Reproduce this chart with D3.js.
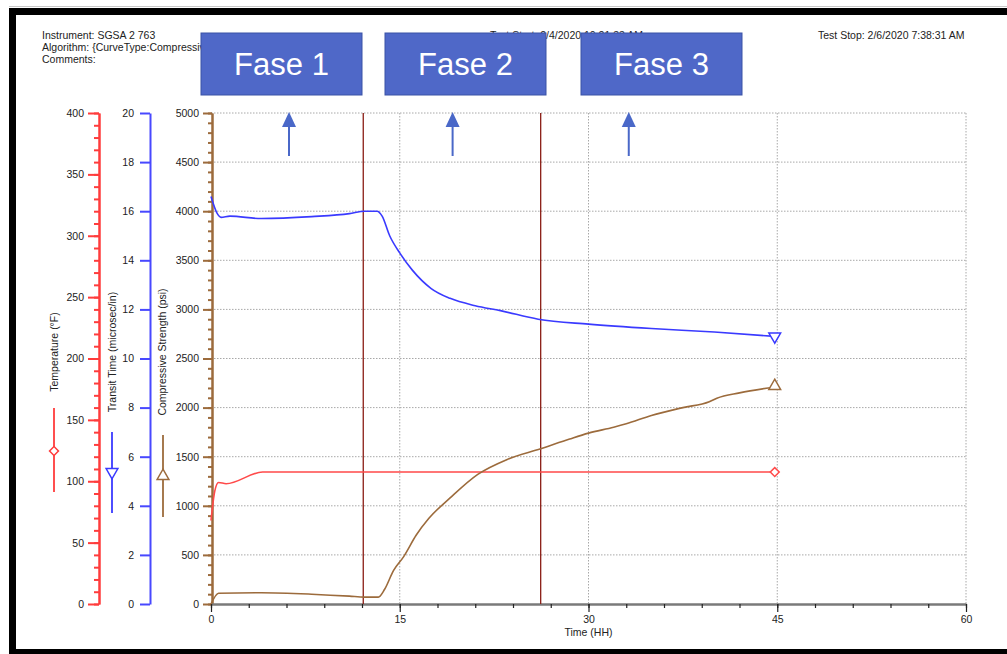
<!DOCTYPE html>
<html>
<head>
<meta charset="utf-8">
<script src="https://cdn.jsdelivr.net/npm/d3@7"></script>
<style>
  body { margin: 0; background: #fff; }
  svg text { font-family: "Liberation Sans", Arial, sans-serif; fill: #222; }
</style>
</head>
<body>
<svg id="chart" width="1007" height="654"></svg>
<script>
// --- data ---
const tempTime   = [0, 0.3, 0.6, 1.2, 4.1, 10, 20, 30, 40, 44.8];
const tempValues = [68, 92, 99, 98, 107.5, 107.5, 107.5, 107.5, 107.5, 107.5];

const transitTime   = [0, 0.5, 0.8, 1.5, 4, 8, 11, 12.2, 13.2, 13.6, 14.2, 15, 16, 17.5, 19, 21, 23, 26, 30, 35, 40, 44.8];
const transitValues = [16.6, 15.9, 15.75, 15.8, 15.7, 15.78, 15.9, 16.0, 16.0, 15.8, 15.0, 14.3, 13.6, 12.85, 12.45, 12.15, 11.95, 11.6, 11.4, 11.22, 11.08, 10.9];

const strengthTime   = [0, 0.6, 4, 8, 11, 12.2, 13.3, 13.8, 14.5, 15.3, 16.3, 17.3, 19, 21.2, 23.5, 26.2, 28.5, 30, 32, 33, 35, 37.5, 39.6, 40.2, 42, 44.8];
const strengthValues = [0, 110, 115, 100, 80, 70, 70, 150, 340, 480, 700, 870, 1080, 1320, 1470, 1580, 1680, 1740, 1800, 1835, 1920, 2000, 2060, 2095, 2150, 2210];

const phaseLines  = [12.1, 26.2];
const phaseLabels = ["Fase 1", "Fase 2", "Fase 3"];
const phaseArrowTimes = [6.2, 19.2, 33.2];

const timeTicks = [0, 15, 30, 45, 60];

const svg = d3.select("#chart");

// frame
svg.append("line").attr("x1", 9).attr("x2", 1007).attr("y1", 6.5).attr("y2", 6.5)
  .attr("stroke", "#c8c8c8");
svg.append("rect").attr("x", 9).attr("y", 8).attr("width", 998).attr("height", 7).attr("fill", "#000");
svg.append("rect").attr("x", 9).attr("y", 8).attr("width", 7).attr("height", 646).attr("fill", "#000");
svg.append("rect").attr("x", 9).attr("y", 649).attr("width", 998).attr("height", 5).attr("fill", "#000");

// scales
const x = d3.scaleLinear().domain([0, 60]).range([211, 966]);
const yS = d3.scaleLinear().domain([0, 5000]).range([604, 113]);
const yT = d3.scaleLinear().domain([0, 20]).range([604, 113]);
const yR = d3.scaleLinear().domain([0, 400]).range([604, 113]);

// header text
const hdr = svg.append("g").attr("font-size", "10.5px");
hdr.append("text").attr("x", 42).attr("y", 39).text("Instrument: SGSA 2 763");
hdr.append("text").attr("x", 42).attr("y", 51).text("Algorithm: {CurveType:Compressive Strength}");
hdr.append("text").attr("x", 42).attr("y", 63).text("Comments:");
hdr.append("text").attr("x", 490).attr("y", 39).text("Test Start: 2/4/2020 10:21:33 AM");
hdr.append("text").attr("x", 818).attr("y", 39).text("Test Stop: 2/6/2020 7:38:31 AM");

// grid
const grid = svg.append("g").attr("stroke", "#a8a8a8").attr("stroke-dasharray", "1.5,1.5");
grid.selectAll("line.h").data(d3.range(500, 5001, 500)).join("line")
  .attr("x1", x(0)).attr("x2", x(60)).attr("y1", d => yS(d)).attr("y2", d => yS(d));
grid.selectAll("line.v").data(timeTicks.slice(1)).join("line")
  .attr("class", "v")
  .attr("x1", d => x(d)).attr("x2", d => x(d)).attr("y1", yS(5000)).attr("y2", yS(0));

// y axes
function styleAxis(g, color, width) {
  g.select(".domain").attr("stroke", color).attr("stroke-width", width);
  g.selectAll(".tick line").attr("stroke", color).attr("stroke-width", width);
  g.selectAll(".tick text").attr("font-size", "10.5px").attr("fill", "#222");
}

// temperature (red)
svg.append("g").attr("transform", "translate(99,0)")
  .call(d3.axisLeft(yR).tickValues(d3.range(0, 401, 10)).tickSize(5).tickFormat("").tickSizeOuter(0))
  .call(g => styleAxis(g, "#ff3c3c", 2));
svg.append("g").attr("transform", "translate(99,0)")
  .call(d3.axisLeft(yR).tickValues(d3.range(0, 401, 50)).tickSize(11).tickPadding(4).tickSizeOuter(0))
  .call(g => styleAxis(g, "#ff3c3c", 2));

// transit time (blue)
svg.append("g").attr("transform", "translate(150,0)")
  .call(d3.axisLeft(yT).tickValues(d3.range(0, 21, 2)).tickSize(10).tickPadding(6).tickSizeOuter(0))
  .call(g => styleAxis(g, "#4848ff", 2));

// compressive strength (brown)
svg.append("g").attr("transform", "translate(212,0)")
  .call(d3.axisLeft(yS).tickValues(d3.range(0, 5001, 100)).tickSize(4).tickFormat("").tickSizeOuter(0))
  .call(g => styleAxis(g, "#9c6b3c", 2));
svg.append("g").attr("transform", "translate(212,0)")
  .call(d3.axisLeft(yS).tickValues(d3.range(0, 5001, 500)).tickFormat(d3.format("d"))
    .tickSize(9).tickPadding(4).tickSizeOuter(0))
  .call(g => styleAxis(g, "#9c6b3c", 2));

// x axis
svg.append("g").attr("transform", `translate(0,${yS(0)})`)
  .call(d3.axisBottom(x).tickValues(d3.range(0, 61, 3)).tickSize(4).tickFormat("").tickSizeOuter(0))
  .call(g => {
    g.select(".domain").attr("stroke", "#7a7a7a").attr("stroke-width", 2.5);
    g.selectAll(".tick line").attr("stroke", "#222").attr("stroke-width", 1.2);
  });
svg.append("g").attr("transform", `translate(0,${yS(0)})`)
  .call(d3.axisBottom(x).tickValues(timeTicks).tickSize(8).tickPadding(4).tickSizeOuter(0))
  .call(g => {
    g.select(".domain").remove();
    g.selectAll(".tick line").attr("stroke", "#222").attr("stroke-width", 1.2);
    g.selectAll(".tick text").attr("font-size", "10.5px").attr("fill", "#222");
  });
svg.append("text").attr("x", x(30)).attr("y", 636).attr("text-anchor", "middle")
  .attr("font-size", "10.5px").text("Time (HH)");

// axis titles with legend glyphs
const titles = [
  { x: 58, text: "Temperature (°F)", color: "#ff3c3c", sym: "diamond", y1: 408, y2: 492, my: 451, lx: 54 },
  { x: 116, text: "Transit Time (microsec/in)", color: "#3a3aff", sym: "down", y1: 432, y2: 513, my: 472, lx: 112 },
  { x: 166, text: "Compressive Strength (psi)", color: "#9c6b3c", sym: "up", y1: 435, y2: 517, my: 476, lx: 163 }
];
function marker(g, sym, cx, cy, color) {
  let path, rot = 0;
  if (sym === "diamond") { path = d3.symbol(d3.symbolSquare, 40)(); rot = 45; }
  else if (sym === "down") { path = d3.symbol(d3.symbolTriangle, 60)(); rot = 180; }
  else { path = d3.symbol(d3.symbolTriangle, 60)(); }
  g.append("path").attr("d", path)
    .attr("transform", `translate(${cx},${cy}) rotate(${rot})`)
    .attr("fill", "#fff").attr("stroke", color).attr("stroke-width", 1.5);
}
titles.forEach(t => {
  svg.append("text").attr("transform", `translate(${t.x},352) rotate(-90)`)
    .attr("text-anchor", "middle").attr("font-size", "10.5px").text(t.text);
  svg.append("line").attr("x1", t.lx).attr("x2", t.lx).attr("y1", t.y1).attr("y2", t.y2)
    .attr("stroke", t.color).attr("stroke-width", 1.8);
  marker(svg, t.sym, t.lx, t.my, t.color);
});

// phase boundaries
svg.selectAll("line.phase").data(phaseLines).join("line").attr("class", "phase")
  .attr("x1", d => x(d)).attr("x2", d => x(d)).attr("y1", yS(5000)).attr("y2", yS(0))
  .attr("stroke", "#8a1c14").attr("stroke-width", 1.3);

// curves
const line = (xs, ys, yScale) => d3.line()
  .x((d, i) => x(xs[i])).y(d => yScale(d)).curve(d3.curveMonotoneX)(ys);

svg.append("path").attr("d", line(tempTime, tempValues, yR))
  .attr("fill", "none").attr("stroke", "#ff4a4a").attr("stroke-width", 1.6);
svg.append("path").attr("d", line(transitTime, transitValues, yT))
  .attr("fill", "none").attr("stroke", "#3a3aff").attr("stroke-width", 1.6);
svg.append("path").attr("d", line(strengthTime, strengthValues, yS))
  .attr("fill", "none").attr("stroke", "#9c6b3c").attr("stroke-width", 1.6);

marker(svg, "diamond", x(tempTime.at(-1)), yR(tempValues.at(-1)), "#ff4a4a");
marker(svg, "down", x(transitTime.at(-1)), yT(transitValues.at(-1)), "#3a3aff");
marker(svg, "up", x(strengthTime.at(-1)), yS(strengthValues.at(-1)) - 1, "#9c6b3c");

// phase boxes
const boxX = [201, 385, 581];
phaseLabels.forEach((lab, i) => {
  svg.append("rect").attr("x", boxX[i]).attr("y", 33).attr("width", 161).attr("height", 62)
    .attr("fill", "#4f68c8").attr("stroke", "#3a52a6").attr("stroke-width", 1);
  svg.append("text").attr("x", boxX[i] + 80.5).attr("y", 75).attr("text-anchor", "middle")
    .attr("font-size", "31px").style("fill", "#fff").text(lab);
});

// arrows
phaseArrowTimes.forEach(t => {
  const ax = x(t);
  svg.append("line").attr("x1", ax).attr("x2", ax).attr("y1", 125).attr("y2", 156)
    .attr("stroke", "#4a68c8").attr("stroke-width", 2);
  svg.append("path").attr("d", `M${ax},112 L${ax - 7},127 L${ax + 7},127 Z`).attr("fill", "#4a68c8");
});
</script>
</body>
</html>
